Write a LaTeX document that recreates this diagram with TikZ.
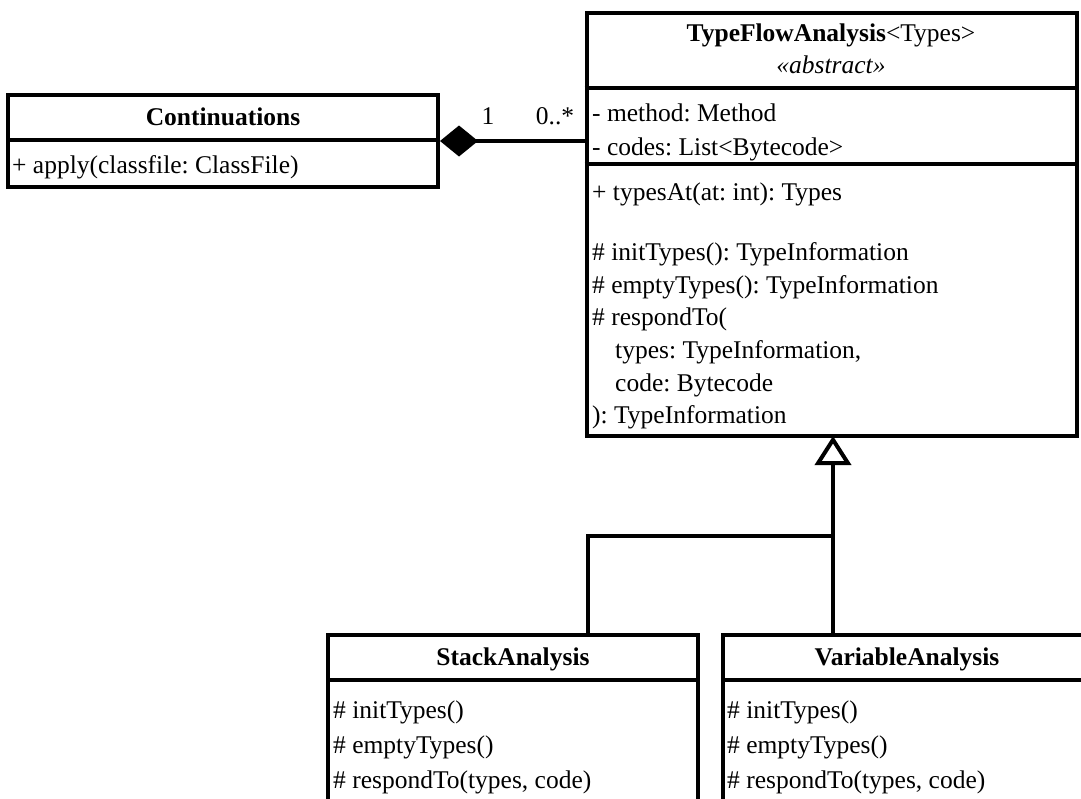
\documentclass[tikz,border=0pt]{standalone}
\usepackage{fontspec}
\setmainfont{Liberation Serif}
\frenchspacing
\usetikzlibrary{arrows.meta}

\tikzset{
  classbox/.style={draw=black, line width=4pt, fill=white, inner sep=0pt},
  sep/.style={line width=4pt},
  txt/.style={inner sep=0pt, yshift=-6pt, font=\fontsize{25.5}{30}\selectfont},
  member/.style={txt, anchor=mid west},
  title/.style={txt, anchor=mid, font=\fontsize{25.5}{30}\selectfont\bfseries},
  assoc/.style={line width=4pt, -{Diamond[length=38pt, width=31pt, fill=black]}},
  inherit/.style={line width=4pt, -{Triangle[open, length=29pt, width=36pt, fill=white, line width=4pt]}},
  link/.style={line width=4pt}
}

\begin{document}
\begin{tikzpicture}[x=1pt, y=-1pt]
  \useasboundingbox (0,0) rectangle (1081,798);
  \clip (0,0) rectangle (1081,798);

  % Continuations
  \node[classbox, minimum width=430pt, minimum height=92pt] (cont) at (223,141) {};
  \draw[sep] (cont.west |- 0,140) -- (cont.east |- 0,140);
  \node[title] (contname) at (223,117) {Continuations};
  \node[member] (contapply) at (12,165) {+ apply(classfile: ClassFile)};

  % TypeFlowAnalysis
  \node[classbox, minimum width=490pt, minimum height=423pt] (tfa) at (831.5,224.5) {};
  \draw[sep] (tfa.west |- 0,88) -- (tfa.east |- 0,88);
  \draw[sep] (tfa.west |- 0,164) -- (tfa.east |- 0,164);
  \node[txt, anchor=mid] (tfaname) at (831,33) {\textbf{TypeFlowAnalysis}<Types>};
  \node[txt, anchor=mid] (tfaster) at (831,65) {\textit{«abstract»}};
  \node[member] (f1) at (592,113) {- method: Method};
  \node[member] (f2) at (592,147) {- codes: List<Bytecode>};
  \node[member] (m1) at (592,192) {+ typesAt(at: int): Types};
  \node[member] (m2) at (592,252) {\# initTypes(): TypeInformation};
  \node[member] (m3) at (592,285) {\# emptyTypes(): TypeInformation};
  \node[member] (m4) at (592,317) {\# respondTo(};
  \node[member] (m5) at (592,350) {\hspace*{23pt}types: TypeInformation,};
  \node[member] (m6) at (592,383) {\hspace*{23pt}code: Bytecode};
  \node[member] (m7) at (592,415) {): TypeInformation};

  % StackAnalysis
  \node[classbox, minimum width=370pt, minimum height=230pt] (stack) at (513,750) {};
  \draw[sep] (stack.west |- 0,680) -- (stack.east |- 0,680);
  \node[title] (stackname) at (513,657) {StackAnalysis};
  \node[member] (s1) at (333,710) {\# initTypes()};
  \node[member] (s2) at (333,745) {\# emptyTypes()};
  \node[member] (s3) at (333,780) {\# respondTo(types, code)};

  % VariableAnalysis
  \node[classbox, minimum width=374pt, minimum height=230pt] (var) at (910,750) {};
  \draw[sep] (var.west |- 0,680) -- (var.east |- 0,680);
  \node[title] (varname) at (907,657) {VariableAnalysis};
  \node[member] (v1) at (727,710) {\# initTypes()};
  \node[member] (v2) at (727,745) {\# emptyTypes()};
  \node[member] (v3) at (727,780) {\# respondTo(types, code)};

  % composition
  \draw[assoc] (tfa.west |- cont.east) -- (cont.east);
  \node[txt, anchor=mid] (mult1) at (488,116) {1};
  \node[txt, anchor=mid] (mult2) at (555,116) {0..*};

  % generalization
  \coordinate (tfabase) at (833,436);
  \coordinate (join) at (833,536);
  \coordinate (stacktop) at (588,635);
  \coordinate (vartop) at (833,635);
  \draw[link] (stacktop) |- (join);
  \draw[link] (vartop) -- (join);
  \draw[inherit] (join) -- (tfabase);
\end{tikzpicture}
\end{document}
